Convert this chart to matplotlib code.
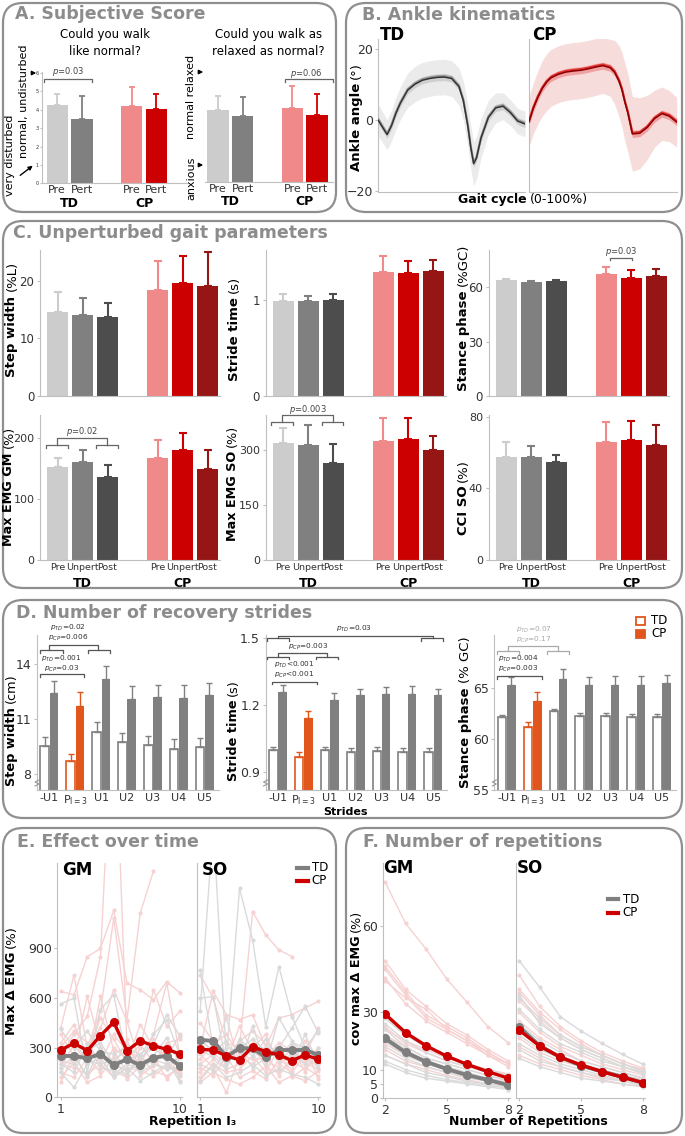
import numpy as np
import matplotlib
matplotlib.use('Agg')
import matplotlib.pyplot as plt
from matplotlib.patches import FancyBboxPatch, Rectangle
from matplotlib.lines import Line2D

plt.rcParams['font.family'] = ['DejaVu Sans']
plt.rcParams['mathtext.fontset'] = 'dejavusans'

W, H = 685, 1136
fig = plt.figure(figsize=(W / 100, H / 100), dpi=100)

# ---------------- DATA ----------------
# A. Subjective score  (order: TD Pre, TD Pert, CP Pre, CP Pert)
a_labels = ['Pre', 'Pert', 'Pre', 'Pert']
a_normal_mean = [4.26, 3.48, 4.20, 4.04]
a_normal_sd = [0.58, 1.27, 1.02, 0.80]
a_relax_mean = [3.94, 3.61, 4.07, 3.66]
a_relax_sd = [0.79, 1.04, 1.17, 1.14]

# B. Ankle kinematics
gait = [0, 3, 6, 9, 12, 15, 20, 25, 30, 35, 40, 45, 50, 55, 58, 61, 63, 65, 67, 70, 75, 80, 85, 90, 95, 100]
td_ankle = [0.0, -2.0, -4.0, -1.5, 2.0, 4.8, 8.5, 10.2, 11.3, 11.8, 12.1, 12.2, 11.8, 9.5, 5.5, -1.5,
            -7.5, -12.2, -10.5, -5.0, 0.8, 3.5, 4.0, 2.2, -0.2, -1.0]
td_ankle_sd = [4.5, 4.3, 4.2, 4.3, 4.5, 4.6, 4.8, 5.0, 5.0, 5.0, 5.0, 5.0, 5.0, 5.2, 5.5, 5.8, 6.0, 6.2,
               6.0, 5.5, 4.8, 4.2, 3.8, 3.6, 3.6, 3.6]
cp_ankle = [-0.4, 3.5, 6.5, 9.0, 10.8, 12.0, 13.0, 13.6, 13.9, 14.1, 14.5, 15.0, 15.4, 14.8, 13.5, 11.0,
            8.5, 5.0, 2.0, -3.8, -3.6, -2.0, 0.5, 1.9, 1.2, -0.5]
cp_ankle_sd = [7.0, 7.2, 7.5, 7.8, 8.0, 8.0, 8.0, 8.0, 8.0, 8.0, 8.0, 8.0, 7.8, 8.0, 9.0, 10.0, 10.5,
               11.0, 11.0, 10.5, 10.0, 9.0, 8.0, 7.5, 7.2, 7.0]

# C. Unperturbed gait parameters (Pre, Unpert, Post)
c_xlabels = ['Pre', 'Unpert', 'Post', 'Pre', 'Unpert', 'Post']
sw_td, sw_td_sd = [14.5, 14.1, 13.7], [3.6, 2.8, 2.5]
sw_cp, sw_cp_sd = [18.4, 19.5, 19.0], [5.0, 4.7, 6.0]
st_td, st_td_sd = [0.99, 0.99, 0.995], [0.07, 0.055, 0.065]
st_cp, st_cp_sd = [1.29, 1.28, 1.30], [0.17, 0.13, 0.115]
sp_td, sp_td_sd = [63.8, 62.7, 63.4], [0.9, 0.9, 0.8]
sp_cp, sp_cp_sd = [67.3, 65.3, 66.4], [3.9, 4.0, 3.8]
gm_td, gm_td_sd = [153, 161.5, 136], [15, 19, 20]
gm_cp, gm_cp_sd = [168, 180, 150], [29, 29, 31]
so_td, so_td_sd = [321, 314, 265], [40, 56, 52]
so_cp, so_cp_sd = [325, 332, 302], [64, 56, 37]
cci_td, cci_td_sd = [57.3, 57.3, 54.5], [8.7, 6.6, 4.4]
cci_cp, cci_cp_sd = [65.7, 66.9, 64.3], [11.5, 10.5, 10.9]

# D. Number of recovery strides
strides = ['-U1', 'P$_{\\mathrm{I=3}}$', 'U1', 'U2', 'U3', 'U4', 'U5']
dsw_td = [9.52, 8.68, 10.29, 9.74, 9.55, 9.37, 9.44]
dsw_td_se = [0.46, 0.42, 0.55, 0.51, 0.52, 0.50, 0.52]
dsw_cp = [12.4, 11.7, 13.2, 12.07, 12.2, 12.12, 12.3]
dsw_cp_se = [0.67, 0.75, 0.70, 0.73, 0.67, 0.72, 0.66]
dst_td = [0.996, 0.968, 0.996, 0.990, 0.993, 0.990, 0.987]
dst_td_se = [0.017, 0.019, 0.017, 0.018, 0.020, 0.018, 0.018]
dst_cp = [1.260, 1.143, 1.222, 1.245, 1.251, 1.251, 1.245]
dst_cp_se = [0.030, 0.032, 0.034, 0.026, 0.032, 0.033, 0.028]
dsp_td = [62.15, 61.22, 62.77, 62.30, 62.30, 62.18, 62.15]
dsp_td_se = [0.22, 0.43, 0.16, 0.24, 0.24, 0.26, 0.35]
dsp_cp = [65.3, 63.75, 65.9, 65.3, 65.3, 65.3, 65.45]
dsp_cp_se = [0.80, 0.85, 0.97, 0.74, 0.90, 0.88, 0.83]

# E. Effect over time
reps = list(range(1, 11))
e_gm_td_mean = [250, 250, 236, 262, 195, 230, 195, 240, 250, 189]
e_gm_cp_mean = [286, 327, 282, 373, 454, 282, 341, 312, 290, 262]
e_so_td_mean = [347, 341, 246, 296, 296, 242, 286, 286, 286, 256]
e_so_cp_mean = [290, 286, 250, 226, 306, 276, 256, 222, 256, 230]
nan = np.nan
e_gm_cp_ind = [
    [640, 620, 850, 900, 1130, 690, 650, 590, 700, 630],
    [420, 740, 300, 520, 1083, 470, 1113, 1369, nan, nan],
    [260, 380, 490, 850, 2500, 300, 200, 350, 210, 150],
    [180, 320, 200, 610, 280, 150, 240, 160, 130, 180],
    [380, 250, 610, 300, 160, 120, 300, 650, 430, 520],
    [220, 200, 300, 420, 650, 460, 200, 380, 690, 250],
    [90, 260, 120, 250, 180, 350, 130, 190, 300, 100],
    [150, 120, 240, 150, 300, 230, 320, 210, 170, 260],
    [330, 440, 260, 480, 350, 210, 440, 300, 240, 380],
    [200, 180, 140, 200, 120, 180, 160, 130, 190, 140],
    [120, 210, 90, 130, 250, 110, 190, 250, 110, 200],
    [300, 400, 330, 210, 380, 280, 240, 200, 330, 350],
]
e_gm_td_ind = [
    [565, 600, 150, 530, 620, 220, 260, 320, 500, 370],
    [410, 300, 400, 280, 260, 310, 250, 380, 470, 250],
    [300, 200, 280, 330, 200, 160, 200, 250, 360, 200],
    [150, 60, 200, 240, 120, 180, 100, 150, 200, 130],
    [250, 340, 220, 200, 230, 280, 150, 200, 170, 180],
    [200, 150, 320, 180, 160, 140, 240, 300, 230, 90],
    [180, 250, 130, 300, 140, 200, 170, 230, 200, 240],
]
e_so_cp_ind = [
    [740, 600, 330, 300, 1123, 982, 891, 851, nan, nan],
    [300, 640, 500, 470, 500, 300, 480, 500, 540, 580],
    [200, 260, 480, 200, 300, 380, 200, 150, 260, 420],
    [120, 200, 150, 170, 250, 150, 300, 120, 180, 130],
    [260, 180, 30, 250, 200, 270, 130, 250, 210, 170],
    [450, 340, 220, 430, 280, 220, 180, 320, 150, 300],
    [180, 130, 250, 120, 160, 110, 230, 170, 300, 110],
    [350, 270, 200, 340, 400, 320, 260, 200, 340, 240],
    [90, 150, 110, 80, 120, 190, 90, 130, 100, 160],
    [230, 320, 380, 260, 230, 240, 330, 280, 220, 200],
    [150, 230, 170, 200, 330, 180, 150, 220, 170, 260],
]
e_so_td_ind = [
    [520, 1650, 240, 300, 350, 280, 300, 420, 550, 390],
    [768, 300, 230, 1264, 951, 427, 790, 488, 300, 400],
    [600, 608, 200, 350, 280, 300, 250, 330, 300, 260],
    [350, 280, 340, 200, 430, 200, 480, 340, 250, 180],
    [200, 160, 300, 280, 180, 240, 300, 200, 380, 200],
    [100, 200, 120, 150, 200, 130, 170, 140, 120, 80],
    [280, 250, 180, 320, 250, 350, 220, 260, 200, 300],
]

# F. Number of repetitions
nrep = [2, 3, 4, 5, 6, 7, 8]
f_gm_td_mean = [20.9, 16.0, 12.75, 10.2, 8.1, 6.4, 4.6]
f_gm_cp_mean = [29.4, 22.9, 18.3, 14.7, 11.8, 9.3, 7.0]
f_so_td_mean = [24.9, 18.3, 14.3, 11.4, 9.3, 7.5, 5.4]
f_so_cp_mean = [23.8, 18.2, 14.3, 11.6, 9.3, 7.3, 5.4]
f_gm_cp_ind = [
    [75.5, 61, 52, 41.6, 33.4, 25, 19.3],
    [48, 38, 32, 26, 22, 17, 13],
    [46, 37, 29, 25, 21, 16, 12],
    [45, 36, 28, 24, 20, 15, 12],
    [42, 33, 27, 23, 19, 15, 11],
    [41, 35, 31, 24, 20, 16, 12],
    [28, 22, 18, 15, 12, 10, 8],
    [25, 19, 16, 13, 11, 9, 7],
    [24, 20, 17, 14, 12, 10, 8.5],
    [22, 18, 14, 12, 10, 8, 6],
    [19, 15, 12, 10, 8, 7, 5],
    [17, 13, 11, 9, 7.5, 6, 4.5],
    [15, 12, 10, 8, 6.5, 5, 4],
]
f_gm_td_ind = [
    [28, 22, 18, 15, 12, 10, 8],
    [26, 20, 16, 13, 11, 9, 7],
    [24, 18, 14, 12, 10, 8, 6],
    [22, 17, 13, 11, 9, 7, 5.5],
    [20, 15, 12, 10, 8, 6.5, 5],
    [18, 14, 11, 9, 7, 6, 4.5],
    [15, 12, 9, 7.5, 6, 5, 4],
    [13, 10, 8, 6.5, 5.5, 4.5, 3.5],
    [12, 9, 7, 6, 5, 4, 3],
]
f_so_td_ind = [
    [48, 38.7, 28.4, 23.4, 19.2, 15.3, 11.8],
    [36, 26, 21, 17, 14, 11, 9],
    [35, 28, 22, 18, 15, 12, 9.5],
    [31, 24, 19, 16, 13, 11, 8.5],
    [26, 20, 16, 13, 11, 9, 7],
    [22, 17, 14, 11, 9, 7.5, 6],
    [19, 15, 12, 10, 8, 6.5, 5],
    [17, 13, 11, 9, 7, 6, 4.5],
    [14, 11, 9, 7, 6, 5, 4],
]
f_so_cp_ind = [
    [43, 32, 25, 20, 16, 13, 10.5],
    [38, 30, 24, 19, 15, 12, 10],
    [37, 29, 22, 18, 15, 12, 9.5],
    [34, 27, 21, 17, 14, 11, 9],
    [30, 23, 18, 15, 12, 10, 8],
    [27, 21, 17, 13, 11, 9, 7],
    [24, 18, 14, 12, 10, 8, 6.5],
    [21, 16, 13, 11, 9, 7, 5.5],
    [18, 14, 11, 9, 7.5, 6, 4.5],
    [15, 12, 10, 8, 6.5, 5, 4],
]

# ---------------- STYLE ----------------
TD3 = ['#cccccc', '#808080', '#4d4d4d']
CP3 = ['#f08a8a', '#cc0000', '#961616']
GRAY = '#808080'
ORANGE = '#e0561c'
TITLE_C = '#8c8c8c'
SPINE_C = '#bfbfbf'


def add_ax(l, t, r, b):
    return fig.add_axes([l / W, 1 - b / H, (r - l) / W, (b - t) / H])


def ftext(x, y, s, **kw):
    return fig.text(x / W, 1 - y / H, s, **kw)


def fline(xs, ys, **kw):
    fig.add_artist(Line2D([x / W for x in xs], [1 - y / H for y in ys],
                          transform=fig.transFigure, **kw))


def bracket(x0, x1, y, h=3, color='#555555', lw=0.9):
    fline([x0, x0, x1, x1], [y + h, y, y, y + h], color=color, lw=lw)


def frame(x0, y0, x1, y1):
    p = FancyBboxPatch((x0 / 100, (H - y1) / 100), (x1 - x0) / 100, (y1 - y0) / 100,
                       boxstyle='round,pad=0,rounding_size=0.2', transform=fig.dpi_scale_trans,
                       fill=False, ec='#8f8f8f', lw=1.6)
    fig.add_artist(p)


def style(ax, left=True, labelsize=8.5):
    for s in ['top', 'right']:
        ax.spines[s].set_visible(False)
    ax.spines['left'].set_visible(left)
    ax.spines['left'].set_color(SPINE_C)
    ax.spines['bottom'].set_color(SPINE_C)
    ax.tick_params(length=2, width=0.8, color=SPINE_C, labelsize=labelsize,
                   labelcolor='#333333', pad=2)
    ax.patch.set_alpha(0)


renderer = fig.canvas.get_renderer()


def mixed(x, y, parts, fs, rot=0):
    objs = [fig.text(0, 0, s, fontsize=fs, fontweight=w, rotation=rot, rotation_mode='anchor',
                     ha='left', va='center', color='black') for s, w in parts]
    lens = []
    for t in objs:
        bb = t.get_window_extent(renderer)
        lens.append(bb.height if rot == 90 else bb.width)
    gap = 0.32 * fs * 100 / 72
    total = sum(lens) + gap * (len(lens) - 1)
    if rot == 90:
        pos = (H - y) - total / 2
        for t, L in zip(objs, lens):
            t.set_position((x / W, pos / H))
            pos += L + gap
    else:
        pos = x - total / 2
        for t, L in zip(objs, lens):
            t.set_position((pos / W, 1 - y / H))
            pos += L + gap


# ---------------- FRAMES & TITLES ----------------
frame(3, 3, 336, 212)
frame(346, 3, 682, 212)
frame(3, 221, 682, 588)
frame(3, 600, 682, 818)
frame(3, 828, 336, 1133)
frame(346, 828, 682, 1133)
tkw = dict(fontsize=12.5, fontweight='bold', color=TITLE_C, va='center', ha='left')
ftext(15, 14, 'A. Subjective Score', **tkw)
ftext(362, 15, 'B. Ankle kinematics', **tkw)
ftext(13, 233, 'C. Unperturbed gait parameters', **tkw)
ftext(16, 613, 'D. Number of recovery strides', **tkw)
ftext(17, 842, 'E. Effect over time', **tkw)
ftext(363, 842, 'F. Number of repetitions', **tkw)

# ---------------- PANEL A ----------------
a_pos = [0, 1, 3, 4]
a_cols = [TD3[0], TD3[1], CP3[0], CP3[1]]


def a_bars(ax, means, sds):
    for p, m, s, c in zip(a_pos, means, sds, a_cols):
        ax.bar(p, m, width=0.86, color=c, zorder=2)
        ax.errorbar(p, m, yerr=[[0], [s]], fmt='none', ecolor=c, elinewidth=1.3,
                    capsize=2.5, capthick=1.3, zorder=3)
    ax.set_xticks(a_pos)
    ax.set_xticklabels(a_labels, fontsize=8)
    ax.tick_params(axis='x', length=0, pad=1.5)
    ax.text(0.5, -0.18, 'TD', transform=ax.get_xaxis_transform(), ha='center', va='center',
            fontsize=9, fontweight='bold')
    ax.text(3.5, -0.18, 'CP', transform=ax.get_xaxis_transform(), ha='center', va='center',
            fontsize=9, fontweight='bold')


axA1 = add_ax(42.3, 71.7, 186.7, 183.3)
style(axA1)
a_bars(axA1, a_normal_mean, a_normal_sd)
axA1.set_xlim(-0.6, 5.22)
axA1.set_ylim(0, 6.07)
axA1.set_yticks(range(7))
axA1.tick_params(axis='y', labelsize=3.5, length=1.5, pad=1)

axA2 = add_ax(205, 72, 333.3, 181.7)
style(axA2, left=False)
a_bars(axA2, a_relax_mean, a_relax_sd)
axA2.set_xlim(-0.52, 4.65)
axA2.set_ylim(0, 6.03)
axA2.set_yticks([])

ftext(105, 43, 'Could you walk\nlike normal?', ha='center', va='center', fontsize=8.5,
      linespacing=1.35)
ftext(268.3, 43, 'Could you walk as\nrelaxed as normal?', ha='center', va='center',
      fontsize=8.5, linespacing=1.35)
ftext(10, 155, 'very disturbed', rotation=90, ha='center', va='center', fontsize=8)
ftext(24, 101, 'normal, undisturbed', rotation=90, ha='center', va='center', fontsize=8)
ftext(191, 97, 'normal relaxed', rotation=90, ha='center', va='center', fontsize=8)
ftext(191, 178, 'anxious', rotation=90, ha='center', va='center', fontsize=8)
akw = dict(arrowstyle='-|>', color='black', lw=1.0, mutation_scale=6)
for (x0, y0, x1, y1) in [(29, 73, 39, 73), (18, 177, 35, 164), (197, 72, 206, 72),
                         (197, 165, 206, 165)]:
    fig.add_artist(matplotlib.patches.FancyArrowPatch((x0 / W, 1 - y0 / H), (x1 / W, 1 - y1 / H),
                                                      transform=fig.transFigure, **akw))
bracket(44.3, 92.3, 79, 3.3, '#666666')
ftext(68.3, 72, '$p$=0.03', ha='center', va='center', fontsize=6, color='#444444')
bracket(285, 332.7, 79, 3.3, '#666666')
ftext(306.7, 73, '$p$=0.06', ha='center', va='center', fontsize=6, color='#444444')

# ---------------- PANEL B ----------------
axB1 = add_ax(378.3, 39, 525, 191.5)
axB2 = add_ax(529, 39, 676.7, 191.5)
g = np.array(gait)
for ax, m, sd, outer, inner, c1, c2 in [
        (axB1, td_ankle, td_ankle_sd, '#ebebeb', '#cfcfcf', '#9a9a9a', '#333333'),
        (axB2, cp_ankle, cp_ankle_sd, '#f7dcdc', '#f0a0a0', '#e23030', '#8b0000')]:
    m = np.array(m)
    sd = np.array(sd)
    ax.fill_between(g, m - sd, m + sd, color=outer, lw=0, zorder=1)
    ax.fill_between(g, m - 1.0, m + 1.0, color=inner, lw=0, zorder=2)
    ax.plot(g, m + 0.3, color=c1, lw=1.6, zorder=3)
    ax.plot(g, m, color=c2, lw=1.1, zorder=4)
    style(ax, labelsize=9)
    ax.set_xlim(0, 100)
    ax.set_ylim(-20, 22.9)
    ax.set_xticks([])
axB1.set_yticks([-20, 0, 20])
axB2.set_yticks([])
ftext(380, 35, 'TD', fontsize=12, fontweight='bold', ha='left', va='center')
ftext(532, 35, 'CP', fontsize=12, fontweight='bold', ha='left', va='center')
mixed(356.7, 116.7, [('Ankle angle', 'bold'), ('(°)', 'normal')], 9.5, rot=90)
mixed(523, 200, [('Gait cycle', 'bold'), ('(0-100%)', 'normal')], 9)

# ---------------- PANEL C ----------------
c_pos = [0, 1, 2, 4, 5, 6]


def c_panel(l, t, r, b, td, tdsd, cp, cpsd, ylim, yticks, bottom_labels):
    ax = add_ax(l, t, r, b)
    style(ax, labelsize=8.5 if not bottom_labels else 8)
    for p, mm, s, c in zip(c_pos, td + cp, tdsd + cpsd, TD3 + CP3):
        ax.bar(p, mm, width=0.84, color=c, zorder=2)
        ax.errorbar(p, mm, yerr=[[0], [s]], fmt='none', ecolor=c, elinewidth=1.5, capsize=3,
                    capthick=1.5, zorder=3)
    ax.set_xlim(-0.7, 6.5)
    ax.set_ylim(*ylim)
    ax.set_yticks(yticks)
    if bottom_labels:
        ax.set_xticks(c_pos)
        ax.set_xticklabels(c_xlabels, fontsize=6.8)
        ax.tick_params(axis='x', length=0, pad=2.5)
        ax.text(1, -0.16, 'TD', transform=ax.get_xaxis_transform(), ha='center', va='center',
                fontsize=9, fontweight='bold')
        ax.text(5, -0.16, 'CP', transform=ax.get_xaxis_transform(), ha='center', va='center',
                fontsize=9, fontweight='bold')
    else:
        ax.set_xticks([])
    return ax


c_panel(40, 250, 220, 396, sw_td, sw_td_sd, sw_cp, sw_cp_sd, (0, 25.3), [0, 10, 20], False)
c_panel(265.5, 250, 445.5, 396, st_td, st_td_sd, st_cp, st_cp_sd, (0, 1.52), [0, 1], False)
c_panel(488.6, 250, 668.6, 396, sp_td, sp_td_sd, sp_cp, sp_cp_sd, (0, 80.5), [0, 30, 60], False)
c_panel(40, 415, 220, 560, gm_td, gm_td_sd, gm_cp, gm_cp_sd, (0, 238), [0, 100, 200], True)
c_panel(265.5, 415, 445.5, 560, so_td, so_td_sd, so_cp, so_cp_sd, (0, 397), [0, 150, 300], True)
c_panel(488.6, 415, 668.6, 560, cci_td, cci_td_sd, cci_cp, cci_cp_sd, (0, 81), [0, 40, 80], True)

mixed(12, 319, [('Step width', 'bold'), ('(%L)', 'normal')], 9.5, rot=90)
mixed(234, 328, [('Stride time', 'bold'), ('(s)', 'normal')], 9.5, rot=90)
mixed(463.7, 317, [('Stance phase', 'bold'), ('(%GC)', 'normal')], 9.5, rot=90)
mixed(9, 486, [('Max EMG GM', 'bold'), ('(%)', 'normal')], 9.2, rot=90)
mixed(232.5, 483, [('Max EMG SO', 'bold'), ('(%)', 'normal')], 9.2, rot=90)
mixed(463.7, 497, [('CCI SO', 'bold'), ('(%)', 'normal')], 9.5, rot=90)

pk = dict(ha='center', va='center', fontsize=6, color='#444444')
bracket(610.2, 632.1, 257.7, 2.5, '#666666')
ftext(621, 251, '$p$=0.03', **pk)
bracket(46, 67.8, 445, 2.5, '#666666')
bracket(96.2, 118, 445, 2.5, '#666666')
bracket(57, 107, 437.7, 7.3, '#666666')
ftext(82, 432, '$p$=0.02', **pk)
bracket(271.2, 293.1, 422.3, 2.5, '#666666')
bracket(321.5, 343.4, 422.3, 2.5, '#666666')
bracket(282, 332.5, 415, 7.3, '#666666')
ftext(307.5, 409, '$p$=0.003', **pk)

# ---------------- PANEL D ----------------


def d_panel(l, r, td, tdse, cp, cpse, ylim, yticks):
    ax = add_ax(l, 635, r, 790)
    style(ax, labelsize=9)
    for i in range(len(strides)):
        col = ORANGE if i == 1 else GRAY
        ax.bar(i - 0.18, td[i], width=0.33, facecolor='white', edgecolor=col, lw=1.2, zorder=2)
        ax.bar(i + 0.18, cp[i], width=0.33, color=col, lw=0, zorder=2)
        ax.errorbar(i - 0.18, td[i], yerr=[[0], [tdse[i]]], fmt='none', ecolor=col, elinewidth=1,
                    capsize=2, capthick=1, zorder=3)
        ax.errorbar(i + 0.18, cp[i], yerr=[[0], [cpse[i]]], fmt='none', ecolor=col, elinewidth=1,
                    capsize=2, capthick=1, zorder=3)
    ax.set_xlim(-0.48, 6.55)
    ax.set_ylim(*ylim)
    ax.set_yticks(yticks)
    ax.set_xticks(range(len(strides)))
    ax.set_xticklabels(strides, fontsize=8)
    ax.tick_params(axis='x', length=0, pad=2)
    # broken-axis mark
    fline([l - 2, l + 2, l - 2, l + 2], [786, 784, 782, 780], color='#999999', lw=0.8)
    return ax


d_panel(37, 219, dsw_td, dsw_td_se, dsw_cp, dsw_cp_se, (7.1, 15.6), [8, 11, 14])
d_panel(265.5, 447.5, dst_td, dst_td_se, dst_cp, dst_cp_se, (0.818, 1.515), [0.9, 1.2, 1.5])
d_panel(494.3, 676.3, dsp_td, dsp_td_se, dsp_cp, dsp_cp_se, (55, 70.2), [55, 60, 65])
mixed(11, 730, [('Step width', 'bold'), ('(cm)', 'normal')], 9.3, rot=90)
mixed(233.5, 730, [('Stride time', 'bold'), ('(s)', 'normal')], 9.3, rot=90)
mixed(466, 712, [('Stance phase', 'bold'), ('(% GC)', 'normal')], 9.5, rot=90)
ftext(345, 812, 'Strides', ha='center', va='center', fontsize=8, fontweight='bold')

dk = dict(ha='center', va='center', fontsize=5.3, color='#333333')
# left
ftext(68, 628.3, '$p_{TD}$=0.02', **dk)
ftext(68, 637.9, '$p_{CP}$=0.006', **dk)
bracket(40, 62.7, 650, 2.5)
bracket(88, 110, 650, 2.5)
bracket(49.3, 98.3, 645, 5)
ftext(61.7, 659, '$p_{TD}$=0.001', **dk)
ftext(61.7, 668.6, '$p_{CP}$=0.03', **dk)
bracket(40, 84.3, 674, 3)
# middle
ftext(354, 629.3, '$p_{TD}$=0.03', **dk)
bracket(267, 288.7, 638.3, 2.5)
bracket(421, 442.7, 638.3, 2.5)
bracket(277.8, 433, 635.7, 2.6)
ftext(308.4, 646.7, '$p_{CP}$=0.003', **dk)
bracket(267, 288.7, 656.7, 2.5)
bracket(316, 337.7, 656.7, 2.5)
bracket(277.8, 326.8, 653.3, 3.4)
ftext(294, 665.3, '$p_{TD}$<0.001', **dk)
ftext(294, 675, '$p_{CP}$<0.001', **dk)
bracket(272, 316.7, 681.7, 2.5)
# right
gk = dict(dk)
gk['color'] = '#aaaaaa'
ftext(534, 630, '$p_{TD}$=0.07', **gk)
ftext(534, 640.2, '$p_{CP}$=0.17', **gk)
bracket(496.7, 519.3, 651, 2.5, '#aaaaaa')
bracket(546.7, 569, 651, 2.5, '#aaaaaa')
bracket(508, 558, 646, 5, '#aaaaaa')
ftext(518, 659, '$p_{TD}$=0.004', **dk)
ftext(518, 668.6, '$p_{CP}$=0.003', **dk)
bracket(496.7, 541.7, 676, 3)
# legend
fig.add_artist(Rectangle((636 / 100, (H - 625) / 100), 8.5 / 100, 8.5 / 100,
                         transform=fig.dpi_scale_trans, facecolor='white', edgecolor=ORANGE, lw=1.3))
fig.add_artist(Rectangle((636 / 100, (H - 638) / 100), 8.5 / 100, 8.5 / 100,
                         transform=fig.dpi_scale_trans, facecolor=ORANGE, edgecolor=ORANGE, lw=1.3))
ftext(651, 620.7, 'TD', fontsize=8.5, va='center', ha='left')
ftext(651, 633.7, 'CP', fontsize=8.5, va='center', ha='left')

# ---------------- PANEL E ----------------
PINK = '#f6d2d2'
LGRAY = '#dadada'


def traj_panel(ax, x, cp_ind, td_ind, td_mean, cp_mean, msz):
    for row in cp_ind:
        ax.plot(x, row, color=PINK, lw=1.0, marker='o', ms=2, zorder=1)
    for row in td_ind:
        ax.plot(x, row, color=LGRAY, lw=1.0, marker='o', ms=2, zorder=1)
    ax.plot(x, td_mean, color='#7f7f7f', lw=2.8, marker='o', ms=msz, zorder=3)
    ax.plot(x, cp_mean, color='#cc0000', lw=2.4, marker='o', ms=msz, zorder=4)


axE1 = add_ax(57.3, 863.3, 181.7, 1097.3)
axE2 = add_ax(196.7, 863.3, 320, 1097.3)
traj_panel(axE1, reps, e_gm_cp_ind, e_gm_td_ind, e_gm_td_mean, e_gm_cp_mean, 5.5)
traj_panel(axE2, reps, e_so_cp_ind, e_so_td_ind, e_so_td_mean, e_so_cp_mean, 5.5)
for ax in (axE1, axE2):
    style(ax, labelsize=9)
    ax.set_xlim(0.74, 10.13)
    ax.set_ylim(0, 1415)
    ax.set_xticks([1, 10])
axE1.set_yticks([0, 300, 600, 900])
axE2.set_yticks([])
ftext(61.7, 870, 'GM', fontsize=12, fontweight='bold', ha='left', va='center')
ftext(201.7, 870, 'SO', fontsize=12, fontweight='bold', ha='left', va='center')
fline([296.7, 308], [867.7, 867.7], color='#7f7f7f', lw=3)
fline([296.7, 308], [881, 881], color='#cc0000', lw=3)
ftext(311.7, 867.7, 'TD', fontsize=8.5, va='center', ha='left')
ftext(311.7, 881, 'CP', fontsize=8.5, va='center', ha='left')
mixed(11.7, 980, [('Max Δ EMG', 'bold'), ('(%)', 'normal')], 9.5, rot=90)
ftext(193, 1122, 'Repetition I₃', fontsize=9, fontweight='bold', ha='center', va='center')

# ---------------- PANEL F ----------------
axF1 = add_ax(383.3, 863.3, 510, 1098.3)
axF2 = add_ax(515.7, 863.3, 645, 1098.3)
traj_panel(axF1, nrep, f_gm_cp_ind, f_gm_td_ind, f_gm_td_mean, f_gm_cp_mean, 5.5)
traj_panel(axF2, nrep, f_so_cp_ind, f_so_td_ind, f_so_td_mean, f_so_cp_mean, 5.5)
for ax in (axF1, axF2):
    style(ax, labelsize=9)
    ax.set_ylim(0, 81.9)
    ax.set_xticks([2, 5, 8])
axF1.set_xlim(1.92, 8.08)
axF2.set_xlim(1.84, 8.08)
axF1.set_yticks([0, 5, 10, 30, 60])
axF2.set_yticks([])
ftext(383, 868, 'GM', fontsize=12, fontweight='bold', ha='left', va='center')
ftext(516.7, 868, 'SO', fontsize=12, fontweight='bold', ha='left', va='center')
fline([608, 618], [899.3, 899.3], color='#7f7f7f', lw=3)
fline([608, 618], [912.7, 912.7], color='#cc0000', lw=3)
ftext(622.7, 899.3, 'TD', fontsize=8.5, va='center', ha='left')
ftext(622.7, 912.7, 'CP', fontsize=8.5, va='center', ha='left')
mixed(356, 977.5, [('cov max Δ EMG', 'bold'), ('(%)', 'normal')], 9.2, rot=90)
ftext(528, 1122, 'Number of Repetitions', fontsize=9, fontweight='bold', ha='center', va='center')

fig.savefig('out.png', dpi=100)
